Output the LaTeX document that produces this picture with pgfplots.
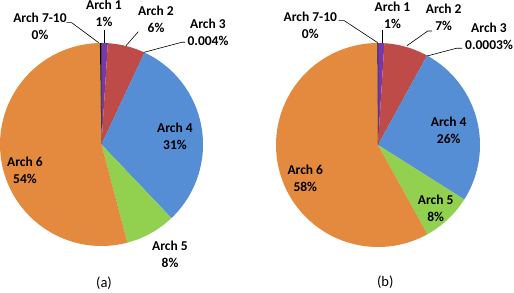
\documentclass[border=0pt]{standalone}
\usepackage{pgfplots}
\pgfplotsset{compat=1.18}
\usepackage{fontspec}
\setmainfont{Carlito}

\definecolor{archone}{RGB}{118,56,170}
\definecolor{archtwo}{RGB}{190,75,72}
\definecolor{archthree}{RGB}{75,172,198}
\definecolor{archfour}{RGB}{85,142,213}
\definecolor{archfive}{RGB}{146,208,80}
\definecolor{archsix}{RGB}{227,138,63}
\definecolor{archseven}{RGB}{0,0,0}

% running share (percent) at which the next slice starts
\gdef\pcum{0}
% \slice{share}{colour}: wedge drawn clockwise from 12 o'clock,
% shares normalised by \ptotal, radius \prad
\newcommand{\slice}[2]{%
  \pgfmathsetmacro\aA{90-(\pcum/\ptotal)*360}%
  \pgfmathsetmacro\aB{90-((\pcum+#1)/\ptotal)*360}%
  \pgfmathsetmacro\newcum{\pcum+#1}%
  \xdef\pcum{\newcum}%
  % very thin wedges need only their two edges
  \pgfmathtruncatemacro\isthin{(\aA-\aB)<1}%
  \ifnum\isthin=1
    \edef\sampopt{samples at={\aB,\aA}}%
  \else
    \edef\sampopt{domain=\aB:\aA, samples=100}%
  \fi
  \edef\temp{\noexpand\addplot[fill=#2, draw=none, \sampopt]
    ({\prad*cos(x)},{\prad*sin(x)}) -- (axis cs:0,0) -- cycle;}%
  \temp
}

\pgfplotsset{
  piepanel/.style={
    scale only axis, width=257pt, height=292pt,
    axis line style={draw=none}, xtick=\empty, ytick=\empty,
    clip=false, anchor=south west,
  },
}
\newcommand{\lab}{\fontsize{13.5}{17}\selectfont\bfseries}

\begin{document}
\begin{tikzpicture}
% ---------- panel (a) ----------
\begin{axis}[piepanel, at={(0pt,0pt)},
  xmin=-101.5, xmax=155.5, ymin=-147.5, ymax=144.5]
  \gdef\pcum{0}
  \pgfmathsetmacro\ptotal{1+6+0.004+31+8+54+0.25}
  \def\prad{101.5}
  \slice{1}{archone}
  \slice{6}{archtwo}
  \slice{0.004}{archthree}
  \slice{31}{archfour}
  \slice{8}{archfive}
  \slice{54}{archsix}
  \slice{0.25}{archseven}
  % leader lines
  \draw[black, line width=0.6pt] (axis cs:-34.8,121.8) -- (axis cs:-29.8,121.8) -- (axis cs:-2.8,101.8);
  \draw[black, line width=0.6pt] (axis cs:2.8,114.5) -- (axis cs:2.8,101.2);
  \draw[black, line width=0.6pt] (axis cs:36.8,112.8) -- (axis cs:24.5,98.8);
  \draw[black, line width=0.6pt] (axis cs:83.5,102.2) -- (axis cs:80.2,102.2) -- (axis cs:42.5,92.2);
  % labels
  \node[align=center, inner sep=0pt, font=\lab] at (axis cs:-61.5,118) {Arch 7-10\\0\%};
  \node[align=center, inner sep=0pt, font=\lab] at (axis cs:2.5,131) {Arch 1\\1\%};
  \node[align=center, inner sep=0pt, font=\lab] at (axis cs:54.5,125.5) {Arch 2\\6\%};
  \node[align=center, inner sep=0pt, font=\lab] at (axis cs:106.5,112) {Arch 3\\0.004\%};
  \node[align=center, inner sep=0pt, font=\lab] at (axis cs:73.5,8) {Arch 4\\31\%};
  \node[align=center, inner sep=0pt, font=\lab] at (axis cs:68.5,-110) {Arch 5\\8\%};
  \node[align=center, inner sep=0pt, font=\lab] at (axis cs:-76.5,-26) {Arch 6\\54\%};
  \node[inner sep=0pt, font=\fontsize{14.5}{17}\selectfont] at (axis cs:2.5,-138.5) {(a)};
\end{axis}
% ---------- panel (b) ----------
\begin{axis}[piepanel, at={(257pt,0pt)},
  xmin=-121, xmax=136, ymin=-147, ymax=145]
  \gdef\pcum{0}
  \pgfmathsetmacro\ptotal{1+7+0.0003+26+8+58+0.1}
  \def\prad{102}
  \slice{1}{archone}
  \slice{7}{archtwo}
  \slice{0.0003}{archthree}
  \slice{26}{archfour}
  \slice{8}{archfive}
  \slice{58}{archsix}
  \slice{0.1}{archseven}
  % leader lines
  \draw[black, line width=0.6pt] (axis cs:-39.3,124.3) -- (axis cs:-33.7,124.3) -- (axis cs:-0.3,102.3);
  \draw[black, line width=0.6pt] (axis cs:4,115) -- (axis cs:4,102.3);
  \draw[black, line width=0.6pt] (axis cs:54,114) -- (axis cs:49.7,114) -- (axis cs:29,99.3);
  \draw[black, line width=0.6pt] (axis cs:84,96.7) -- (axis cs:78.3,96.7) -- (axis cs:49,89);
  % labels
  \node[align=center, inner sep=0pt, font=\lab] at (axis cs:-67.7,120) {Arch 7-10\\0\%};
  \node[align=center, inner sep=0pt, font=\lab] at (axis cs:14.5,130) {Arch 1\\1\%};
  \node[align=center, inner sep=0pt, font=\lab] at (axis cs:65.7,127.3) {Arch 2\\7\%};
  \node[align=center, inner sep=0pt, font=\lab] at (axis cs:111,108.3) {Arch 3\\0.0003\%};
  \node[align=center, inner sep=0pt, font=\lab] at (axis cs:70.7,14.5) {Arch 4\\26\%};
  \node[align=center, inner sep=0pt, font=\lab] at (axis cs:57.7,-63.5) {Arch 5\\8\%};
  \node[align=center, inner sep=0pt, font=\lab] at (axis cs:-72.7,-33.8) {Arch 6\\58\%};
  \node[inner sep=0pt, font=\fontsize{14.5}{17}\selectfont] at (axis cs:7.3,-137.7) {(b)};
\end{axis}
\end{tikzpicture}
\end{document}
